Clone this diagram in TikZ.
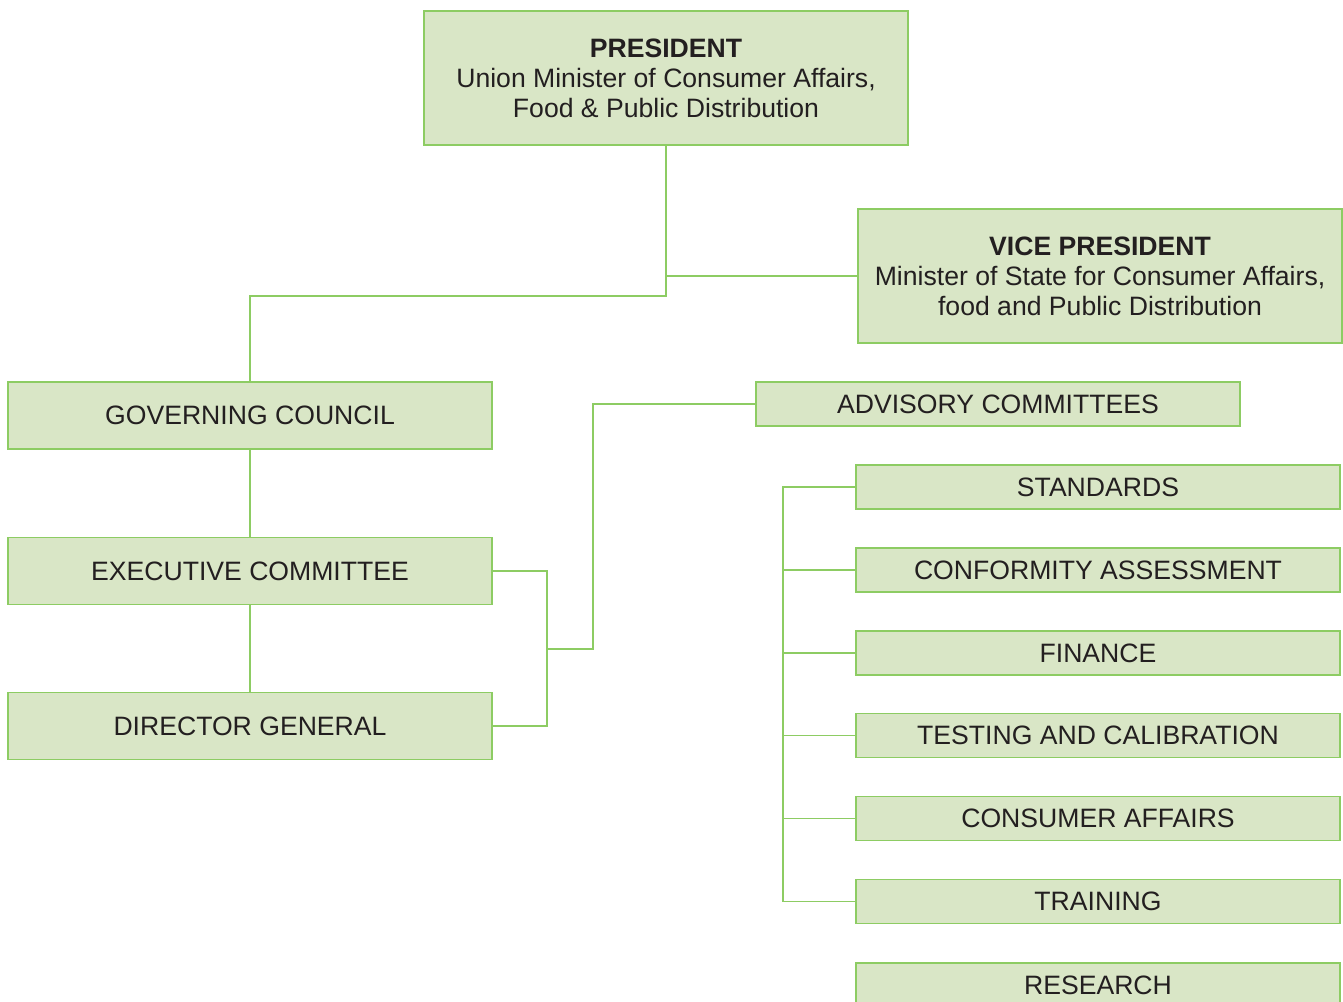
\documentclass[tikz,border=0pt]{standalone}
\usepackage{fontspec}
\setmainfont{Liberation Sans}
\definecolor{boxfill}{HTML}{D9E6C6}
\definecolor{boxline}{HTML}{8DCC63}
\definecolor{txt}{HTML}{231F20}
\begin{document}
\begin{tikzpicture}[x=1pt,y=-1pt,
  box/.style={draw=boxline,fill=boxfill,line width=1.5pt,rectangle,inner sep=0pt,
    text=txt,font=\fontsize{26.6}{30}\selectfont,align=center},
  bigbox/.style={box,minimum width=484pt,minimum height=134pt},
  midbox/.style={box,minimum width=484pt,minimum height=67pt},
  smallbox/.style={box,minimum width=484pt,minimum height=44pt},
  link/.style={draw=boxline,line width=1.3pt}]
\useasboundingbox (0,0) rectangle (1343,1001);
\fill[white] (0,0) rectangle (1343,1001);
\node[bigbox] (pres) at (666,78) {\textbf{PRESIDENT}\\Union Minister of Consumer Affairs,\\Food \& Public Distribution};
\node[bigbox] (vp) at (1100,276) {\textbf{VICE PRESIDENT}\\Minister of State for Consumer Affairs,\\food and Public Distribution};
\node[midbox] (gc) at (250,415.5) {GOVERNING COUNCIL};
\node[midbox] (ec) at (250,571) {EXECUTIVE COMMITTEE};
\node[midbox] (dg) at (250,726) {DIRECTOR GENERAL};
\node[smallbox] (adv) at (998,404) {ADVISORY COMMITTEES};
\node[smallbox] (std) at (1098,487) {STANDARDS};
\node[smallbox] (conf) at (1098,570) {CONFORMITY ASSESSMENT};
\node[smallbox] (fin) at (1098,653) {FINANCE};
\node[smallbox] (test) at (1098,735.5) {TESTING AND CALIBRATION};
\node[smallbox] (cons) at (1098,818.5) {CONSUMER AFFAIRS};
\node[smallbox] (trn) at (1098,901.5) {TRAINING};
\node[smallbox] (res) at (1098,985) {RESEARCH};
\coordinate (pj) at (666,276);
\coordinate (mj) at (547,649);
% president branch
\draw[link] (pres.south) -- (666,296) -| (gc.north);
\draw[link] (pj) -- (vp.west);
\draw[link] (gc.south) -- (ec.north);
\draw[link] (ec.south) -- (dg.north);
\draw[link] (ec.east) -| (mj);
\draw[link] (dg.east) -| (mj);
\draw[link] (mj) -- (593,649) |- (adv.west);
% committee bracket
\draw[link] (std.west) -- (783,487) -- (783,901.5) -- (trn.west);
\draw[link] (783,570) -- (conf.west);
\draw[link] (783,653) -- (fin.west);
\draw[link] (783,735.5) -- (test.west);
\draw[link] (783,818.5) -- (cons.west);
\end{tikzpicture}
\end{document}
